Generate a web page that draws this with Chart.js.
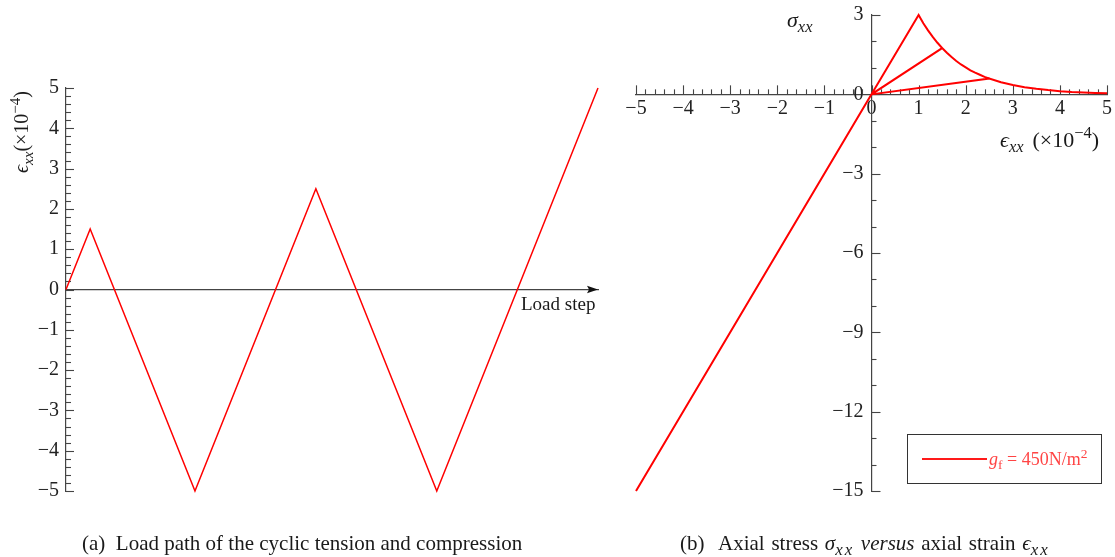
<!DOCTYPE html>
<html><head><meta charset="utf-8">
<script src="https://cdn.jsdelivr.net/npm/chart.js@4.4.0/dist/chart.umd.min.js"></script>
<style>
html,body{margin:0;padding:0;background:#fff;}
body{width:1115px;height:557px;position:relative;overflow:hidden;font-family:"Liberation Serif",serif;color:#1a1a1a;}
canvas{position:absolute;top:0;}
.t{position:absolute;white-space:nowrap;line-height:1;}
sub,sup{font-size:0.75em;line-height:0;}
sub{vertical-align:-0.3em;}
sup{vertical-align:0.55em;}
.cap{font-size:21px;}
.capb{word-spacing:1.5px;}
.cap sub{font-size:0.8em;letter-spacing:0.12em;}
#legend{position:absolute;left:907px;top:434px;width:195px;height:50px;border:1px solid #333;box-sizing:border-box;}
#legend .ln{position:absolute;left:14px;top:23px;width:65px;height:1.6px;background:#ff1a1a;}
#legend .lt{position:absolute;left:81px;top:15px;font-size:18px;color:#ff4444;white-space:nowrap;line-height:1;}
</style></head>
<body>
<canvas id="ca" width="620" height="557" style="left:0"></canvas>
<canvas id="cb" width="495" height="557" style="left:620px"></canvas>

<div class="t" style="left:21px;top:132px;font-size:20px;transform:translate(-50%,-50%) rotate(-90deg);"><i>ϵ</i><sub><i>xx</i></sub>(×10<sup>−4</sup>)</div>
<div class="t" style="left:521px;top:294px;font-size:19px;">Load step</div>
<div class="t" style="left:787px;top:9px;font-size:22px;"><i>σ</i><sub><i>xx</i></sub></div>
<div class="t" style="left:1000px;top:129px;font-size:22px;"><i>ϵ</i><sub><i>xx</i></sub><span style="margin-left:9px">(×10<sup>−4</sup>)</span></div>

<div class="t cap" style="left:82px;top:533px;">(a)&nbsp;&nbsp;Load path of the cyclic tension and compression</div>
<div class="t cap capb" style="left:680px;top:533px;">(b)&nbsp;&nbsp;Axial stress <i>σ</i><sub><i>xx</i></sub> <i>versus</i> axial strain <i>ϵ</i><sub><i>xx</i></sub></div>

<div id="legend"><div class="ln"></div><div class="lt"><i>g</i><sub>f</sub> = 450N/m<sup>2</sup></div></div>

<script>
// ---- data (a): load path ----
const loadStep   = [0, 1.5, 8, 15.5, 23, 33];
const strainPath = [0, 1.5, -5, 2.5, -5, 5];
// ---- data (b): stress-strain response ----
const strainB = [0, 1, 1.1, 1.2, 1.3, 1.4, 1.5, 0, -5, 0, 1.5, 1.6, 1.7, 1.8, 1.9, 2.0, 2.1, 2.2, 2.3, 2.4, 2.5, 0, -5, 0, 2.5, 2.75, 3, 3.25, 3.5, 3.75, 4, 4.25, 4.5, 4.75, 5];
const stressB = [0, 3, 2.69, 2.42, 2.17, 1.95, 1.75, 0, -15, 0, 1.75, 1.57, 1.41, 1.26, 1.13, 1.02, 0.91, 0.82, 0.74, 0.66, 0.6, 0, -15, 0, 0.6, 0.46, 0.35, 0.27, 0.21, 0.16, 0.12, 0.09, 0.07, 0.055, 0.04];
// ---- axis ranges ----
const stepRange    = [0, 33];
const strainRangeA = [-5, 5];
const strainRangeB = [-5, 5];
const stressRange  = [-15, 3];

const AX = '#444';
const FONT = {family: 'Liberation Serif', size: 20};
function fmtMajor(step, suffix) {
  return function(v) {
    const r = v / step;
    if (Math.abs(r - Math.round(r)) > 1e-6) return '';
    const n = Math.round(v * 1000) / 1000;
    return (n < 0 ? '\u2212' + (-n) : String(n)) + (suffix || '');
  };
}

const tickPlugin = {
  id: 'axisTicks',
  beforeDatasetsDraw(chart, args, opts) {
    const ctx = chart.ctx;
    const xs = chart.scales.x, ys = chart.scales.y;
    ctx.save();
    ctx.strokeStyle = AX;
    ctx.lineWidth = 1.1;
    (opts.axes || []).forEach(a => {
      const sc = chart.scales[a.id];
      sc.ticks.forEach(t => {
        const v = t.value;
        const r = v / a.major;
        const major = Math.abs(r - Math.round(r)) < 1e-6;
        const len = major ? a.majorLen : a.minorLen;
        ctx.beginPath();
        if (sc.isHorizontal()) {
          const px = Math.round(sc.getPixelForValue(v)) + 0.5;
          const y0 = ys.getPixelForValue(0);
          ctx.moveTo(px, y0); ctx.lineTo(px, y0 - len);
        } else {
          const py = Math.round(sc.getPixelForValue(v)) + 0.5;
          const x0 = xs.getPixelForValue(0);
          ctx.moveTo(x0, py); ctx.lineTo(x0 + len, py);
        }
        ctx.stroke();
      });
    });
    if (opts.arrow) {
      const y0 = ys.getPixelForValue(0);
      const xr = xs.right;
      ctx.fillStyle = '#111';
      ctx.beginPath();
      ctx.moveTo(xr, y0);
      ctx.lineTo(xr - 11, y0 - 3.8);
      ctx.lineTo(xr - 9, y0);
      ctx.lineTo(xr - 11, y0 + 3.8);
      ctx.closePath();
      ctx.fill();
    }
    ctx.restore();
  }
};

function baseOpts(padding) {
  return {
    responsive: false, animation: false, devicePixelRatio: 1, events: [],
    layout: {padding},
    plugins: {legend: {display: false}, tooltip: {enabled: false}}
  };
}

// Chart (a)
const optA = baseOpts({left: 0, right: 22, top: 88, bottom: 66});
optA.plugins.axisTicks = {axes: [{id: 'y', major: 1, majorLen: 8, minorLen: 5}], arrow: true};
optA.scales = {
  x: {type: 'linear', min: stepRange[0], max: stepRange[1], position: {y: 0},
      grid: {display: false, drawTicks: false}, ticks: {display: false},
      border: {display: true, color: AX, width: 1.2}, afterFit: s => { s.height = 0; }},
  y: {type: 'linear', min: strainRangeA[0], max: strainRangeA[1], position: 'left',
      grid: {display: false, drawTicks: false},
      border: {display: true, color: AX, width: 1.2},
      ticks: {stepSize: 0.2, autoSkip: false, callback: fmtMajor(1), font: FONT, color: '#222', padding: 7},
      afterFit: s => { s.width = 66; }}
};
new Chart(document.getElementById('ca'), {
  type: 'scatter',
  data: {datasets: [{
    data: loadStep.map((s, i) => ({x: s, y: strainPath[i]})),
    showLine: true, borderColor: '#ff0000', borderWidth: 1.5, pointRadius: 0, tension: 0, clip: false
  }]},
  options: optA,
  plugins: [tickPlugin]
});

// Chart (b)
const optB = baseOpts({left: 16, right: 8, top: 14, bottom: 66});
optB.plugins.axisTicks = {axes: [
  {id: 'x', major: 1, majorLen: 9, minorLen: 5},
  {id: 'y', major: 3, majorLen: 9, minorLen: 5}
]};
optB.scales = {
  x: {type: 'linear', min: strainRangeB[0], max: strainRangeB[1], position: {y: 0},
      grid: {display: false, drawTicks: false},
      border: {display: true, color: AX, width: 1.2},
      ticks: {stepSize: 0.2, autoSkip: false, maxRotation: 0, callback: fmtMajor(1), font: FONT, color: '#222', padding: 2},
      afterFit: s => { s.height = 0; }},
  y: {type: 'linear', min: stressRange[0], max: stressRange[1], position: {x: 0},
      grid: {display: false, drawTicks: false},
      border: {display: true, color: AX, width: 1.2},
      ticks: {stepSize: 1, autoSkip: false, callback: fmtMajor(3, '\u2009\u2009'), font: FONT, color: '#222'},
      afterFit: s => { s.width = 0; }}
};
new Chart(document.getElementById('cb'), {
  type: 'scatter',
  data: {datasets: [{
    data: strainB.map((e, i) => ({x: e, y: stressB[i]})),
    showLine: true, borderColor: '#ff0000', borderWidth: 2, pointRadius: 0, tension: 0, clip: false
  }]},
  options: optB,
  plugins: [tickPlugin]
});
</script>
</body></html>
